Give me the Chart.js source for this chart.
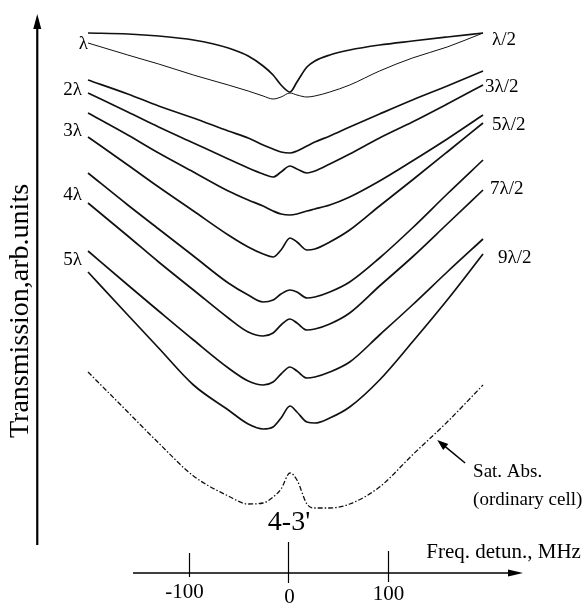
<!DOCTYPE html>
<html><head><meta charset="utf-8">
<script src="https://cdn.jsdelivr.net/npm/chart.js@4.4.1/dist/chart.umd.min.js"></script>
<style>html,body{margin:0;padding:0;background:#fff;}#wrap{width:587px;height:608px;}</style>
</head><body><div id="wrap"><canvas id="c" width="587" height="608"></canvas></div>
<script>
// Frequency detuning, MHz
const freq = [-201,-161,-130,-95,-60,-40,-25,-15,-7,2,9,19,27,42,62,92,125,160,196];
// Transmission, arb. units (curves offset vertically as in the figure)
const sHalf   = [56.7,56.6,56.4,56.0,55.2,54.4,53.4,52.5,51.5,50.8,51.8,53.3,53.9,54.5,55.0,55.5,55.9,56.3,56.7]; // λ/2
const s1      = [55.7,54.5,53.6,52.5,51.5,50.9,50.4,50.1,50.3,50.7,50.5,50.3,50.4,50.8,51.5,52.9,54.2,55.3,56.7]; // λ
const s3Half  = [52.0,50.6,49.4,48.2,46.9,46.2,45.5,45.1,44.8,44.7,44.9,45.4,45.8,46.4,47.3,48.6,50.0,51.4,52.9]; // 3λ/2
const s2      = [50.7,48.8,47.3,45.7,44.1,43.2,42.6,42.3,42.8,43.4,43.1,42.7,42.9,43.6,44.6,46.2,47.8,49.6,51.5]; // 2λ
const s5Half  = [48.7,46.5,44.7,42.8,40.9,40.0,39.4,38.9,38.6,38.5,38.6,38.9,39.1,39.5,40.3,41.9,43.9,46.1,48.5]; // 5λ/2
const s3      = [46.3,43.5,41.3,38.9,36.5,35.3,34.6,34.3,35.0,36.2,35.8,35.0,35.1,35.8,37.0,39.4,42.0,44.8,47.7]; // 3λ
const s7Half  = [42.7,39.5,37.1,34.4,31.7,30.5,29.8,30.0,30.6,31.0,30.8,30.2,30.3,30.8,31.8,34.2,37.2,40.6,44.0]; // 7λ/2
const s4      = [39.7,36.4,33.8,31.0,28.2,26.8,26.4,26.7,27.5,28.1,27.7,27.0,27.1,27.6,28.7,31.4,34.3,37.6,41.0]; // 4λ
const s9Half  = [34.9,31.5,28.9,26.0,23.2,21.9,21.5,21.8,22.6,23.3,22.9,22.2,22.3,22.8,23.8,26.5,29.5,32.8,36.1]; // 9λ/2
const s5      = [32.8,28.5,25.2,21.5,19.0,17.6,17.1,17.3,18.2,19.4,18.8,17.8,17.7,18.2,19.3,22.0,25.8,30.0,34.6]; // 5λ
const satAbs  = [22.8,18.8,15.7,12.4,10.4,9.6,9.7,10.3,11.1,12.7,12.0,9.6,9.2,9.2,9.6,11.3,14.5,17.8,21.5]; // Sat. Abs.
// Axis ticks
const xTicks = [-100, 0, 100];
const xTickLabels = ['-100', '0', '100'];
const leftLabels  = ['λ', '2λ', '3λ', '4λ', '5λ'];
const rightLabels = ['λ/2', '3λ/2', '5λ/2', '7λ/2', '9λ/2'];

const SERIF = '"Liberation Serif", "Times New Roman", serif';

function ds(arr, opts) {
  return Object.assign({
    data: freq.map((f, i) => ({x: f, y: arr[i]})),
    borderColor: '#111', borderWidth: 1.7, pointRadius: 0,
    cubicInterpolationMode: 'monotone', fill: false
  }, opts || {});
}

const deco = {
  id: 'deco',
  beforeDraw(chart) {
    const c = chart.ctx; c.save(); c.fillStyle = '#fff';
    c.fillRect(0, 0, chart.width, chart.height); c.restore();
  },
  afterDatasetsDraw(chart) {
    const ctx = chart.ctx, xs = chart.scales.x, ys = chart.scales.y;
    const X = v => xs.getPixelForValue(v), Y = v => ys.getPixelForValue(v);
    ctx.save();
    ctx.strokeStyle = '#000'; ctx.fillStyle = '#000';

    // vertical arrow (transmission axis)
    const ax = X(-252), top = Y(58.6), bot = Y(5.5);
    ctx.lineWidth = 2.2;
    ctx.beginPath(); ctx.moveTo(ax, bot); ctx.lineTo(ax, top + 10); ctx.stroke();
    ctx.beginPath(); ctx.moveTo(ax, top); ctx.lineTo(ax - 4, top + 15); ctx.lineTo(ax + 4, top + 15); ctx.closePath(); ctx.fill();

    // horizontal arrow (frequency axis)
    const ay = Y(2.7), x0 = X(-155.8), x1 = X(236.2);
    ctx.lineWidth = 1.3;
    ctx.beginPath(); ctx.moveTo(x0, ay); ctx.lineTo(x1 - 10, ay); ctx.stroke();
    ctx.beginPath(); ctx.moveTo(x1, ay); ctx.lineTo(x1 - 15, ay - 3.5); ctx.lineTo(x1 - 15, ay + 3.5); ctx.closePath(); ctx.fill();

    // ticks: long marks through the axis
    const tickTop = [20, 31, 22], tickBot = [4, 10, 9];
    const labOff = [-5, 1, 0], labBase = [25, 30, 27];
    ctx.lineWidth = 1.2;
    ctx.font = '21px ' + SERIF; ctx.textAlign = 'center'; ctx.textBaseline = 'alphabetic';
    xTicks.forEach((t, i) => {
      const px = Math.round(X(t)) + 0.5;
      ctx.beginPath(); ctx.moveTo(px, ay - tickTop[i]); ctx.lineTo(px, ay + tickBot[i]); ctx.stroke();
      ctx.fillText(xTickLabels[i], px + labOff[i], ay + labBase[i]);
    });

    // axis titles
    ctx.textAlign = 'left';
    ctx.fillText('Freq. detun., MHz', X(139), ay - 15);
    ctx.save();
    ctx.translate(X(-261), Y(28.9));
    ctx.rotate(-Math.PI / 2);
    ctx.font = '28px ' + SERIF; ctx.textAlign = 'center';
    ctx.fillText('Transmission,arb.units', 0, 0);
    ctx.restore();

    // curve labels
    ctx.font = '19px ' + SERIF; ctx.textBaseline = 'middle';
    const lx = X(freq[0]);
    const leftY = [Y(sHalf[0]) + 11, Y(s2[0]) - 3, Y(s3[0]) - 6, Y(s4[0]) - 8, Y(s9Half[0]) + 9];
    ctx.textAlign = 'right';
    leftLabels.forEach((t, i) => ctx.fillText(t, lx - (i === 0 ? 0 : 6), leftY[i]));
    const rx = X(freq[freq.length - 1]);
    const rightY = [Y(sHalf[18]) + 7, Y(s3Half[18]) + 16, Y(s5Half[18]) + 10, Y(s4[18]) - 1, Y(s9Half[18]) + 19];
    const rightDx = [9, 2, 9, 7, 15];
    ctx.textAlign = 'left';
    rightLabels.forEach((t, i) => ctx.fillText(t, rx + rightDx[i], rightY[i]));

    // transition label
    ctx.textBaseline = 'alphabetic'; ctx.textAlign = 'center';
    ctx.font = '28px ' + SERIF;
    ctx.fillText("4-3'", X(1), Y(7.0));

    // Sat. Abs. annotation with arrow
    ctx.font = '19px ' + SERIF; ctx.textAlign = 'left';
    ctx.fillText('Sat. Abs.', X(186), Y(12.3));
    ctx.fillText('(ordinary cell)', X(186), Y(9.5));
    const tx = X(150), ty = Y(16.0), sx = X(178), sy = Y(13.7);
    const ang = Math.atan2(ty - sy, tx - sx);
    ctx.lineWidth = 1.5;
    ctx.beginPath(); ctx.moveTo(sx, sy); ctx.lineTo(tx - 8 * Math.cos(ang), ty - 8 * Math.sin(ang)); ctx.stroke();
    ctx.beginPath(); ctx.moveTo(tx, ty);
    ctx.lineTo(tx - 11 * Math.cos(ang) + 4 * Math.sin(ang), ty - 11 * Math.sin(ang) - 4 * Math.cos(ang));
    ctx.lineTo(tx - 11 * Math.cos(ang) - 4 * Math.sin(ang), ty - 11 * Math.sin(ang) + 4 * Math.cos(ang));
    ctx.closePath(); ctx.fill();
    ctx.restore();
  }
};

new Chart(document.getElementById('c'), {
  type: 'line',
  data: {
    datasets: [
      ds(sHalf), ds(s1, {borderWidth: 1.0}), ds(s3Half), ds(s2), ds(s5Half), ds(s3),
      ds(s7Half), ds(s4), ds(s9Half), ds(s5),
      ds(satAbs, {borderWidth: 1.3, borderDash: [5, 2, 1.5, 2]})
    ]
  },
  options: {
    responsive: false, animation: false, devicePixelRatio: 1,
    layout: {padding: 0},
    plugins: {legend: {display: false}, tooltip: {enabled: false}, title: {display: false}},
    scales: {
      x: {type: 'linear', display: false, min: -289.45, max: 300.5},
      y: {type: 'linear', display: false, min: -0.8, max: 60}
    }
  },
  plugins: [deco]
});
</script></body></html>
